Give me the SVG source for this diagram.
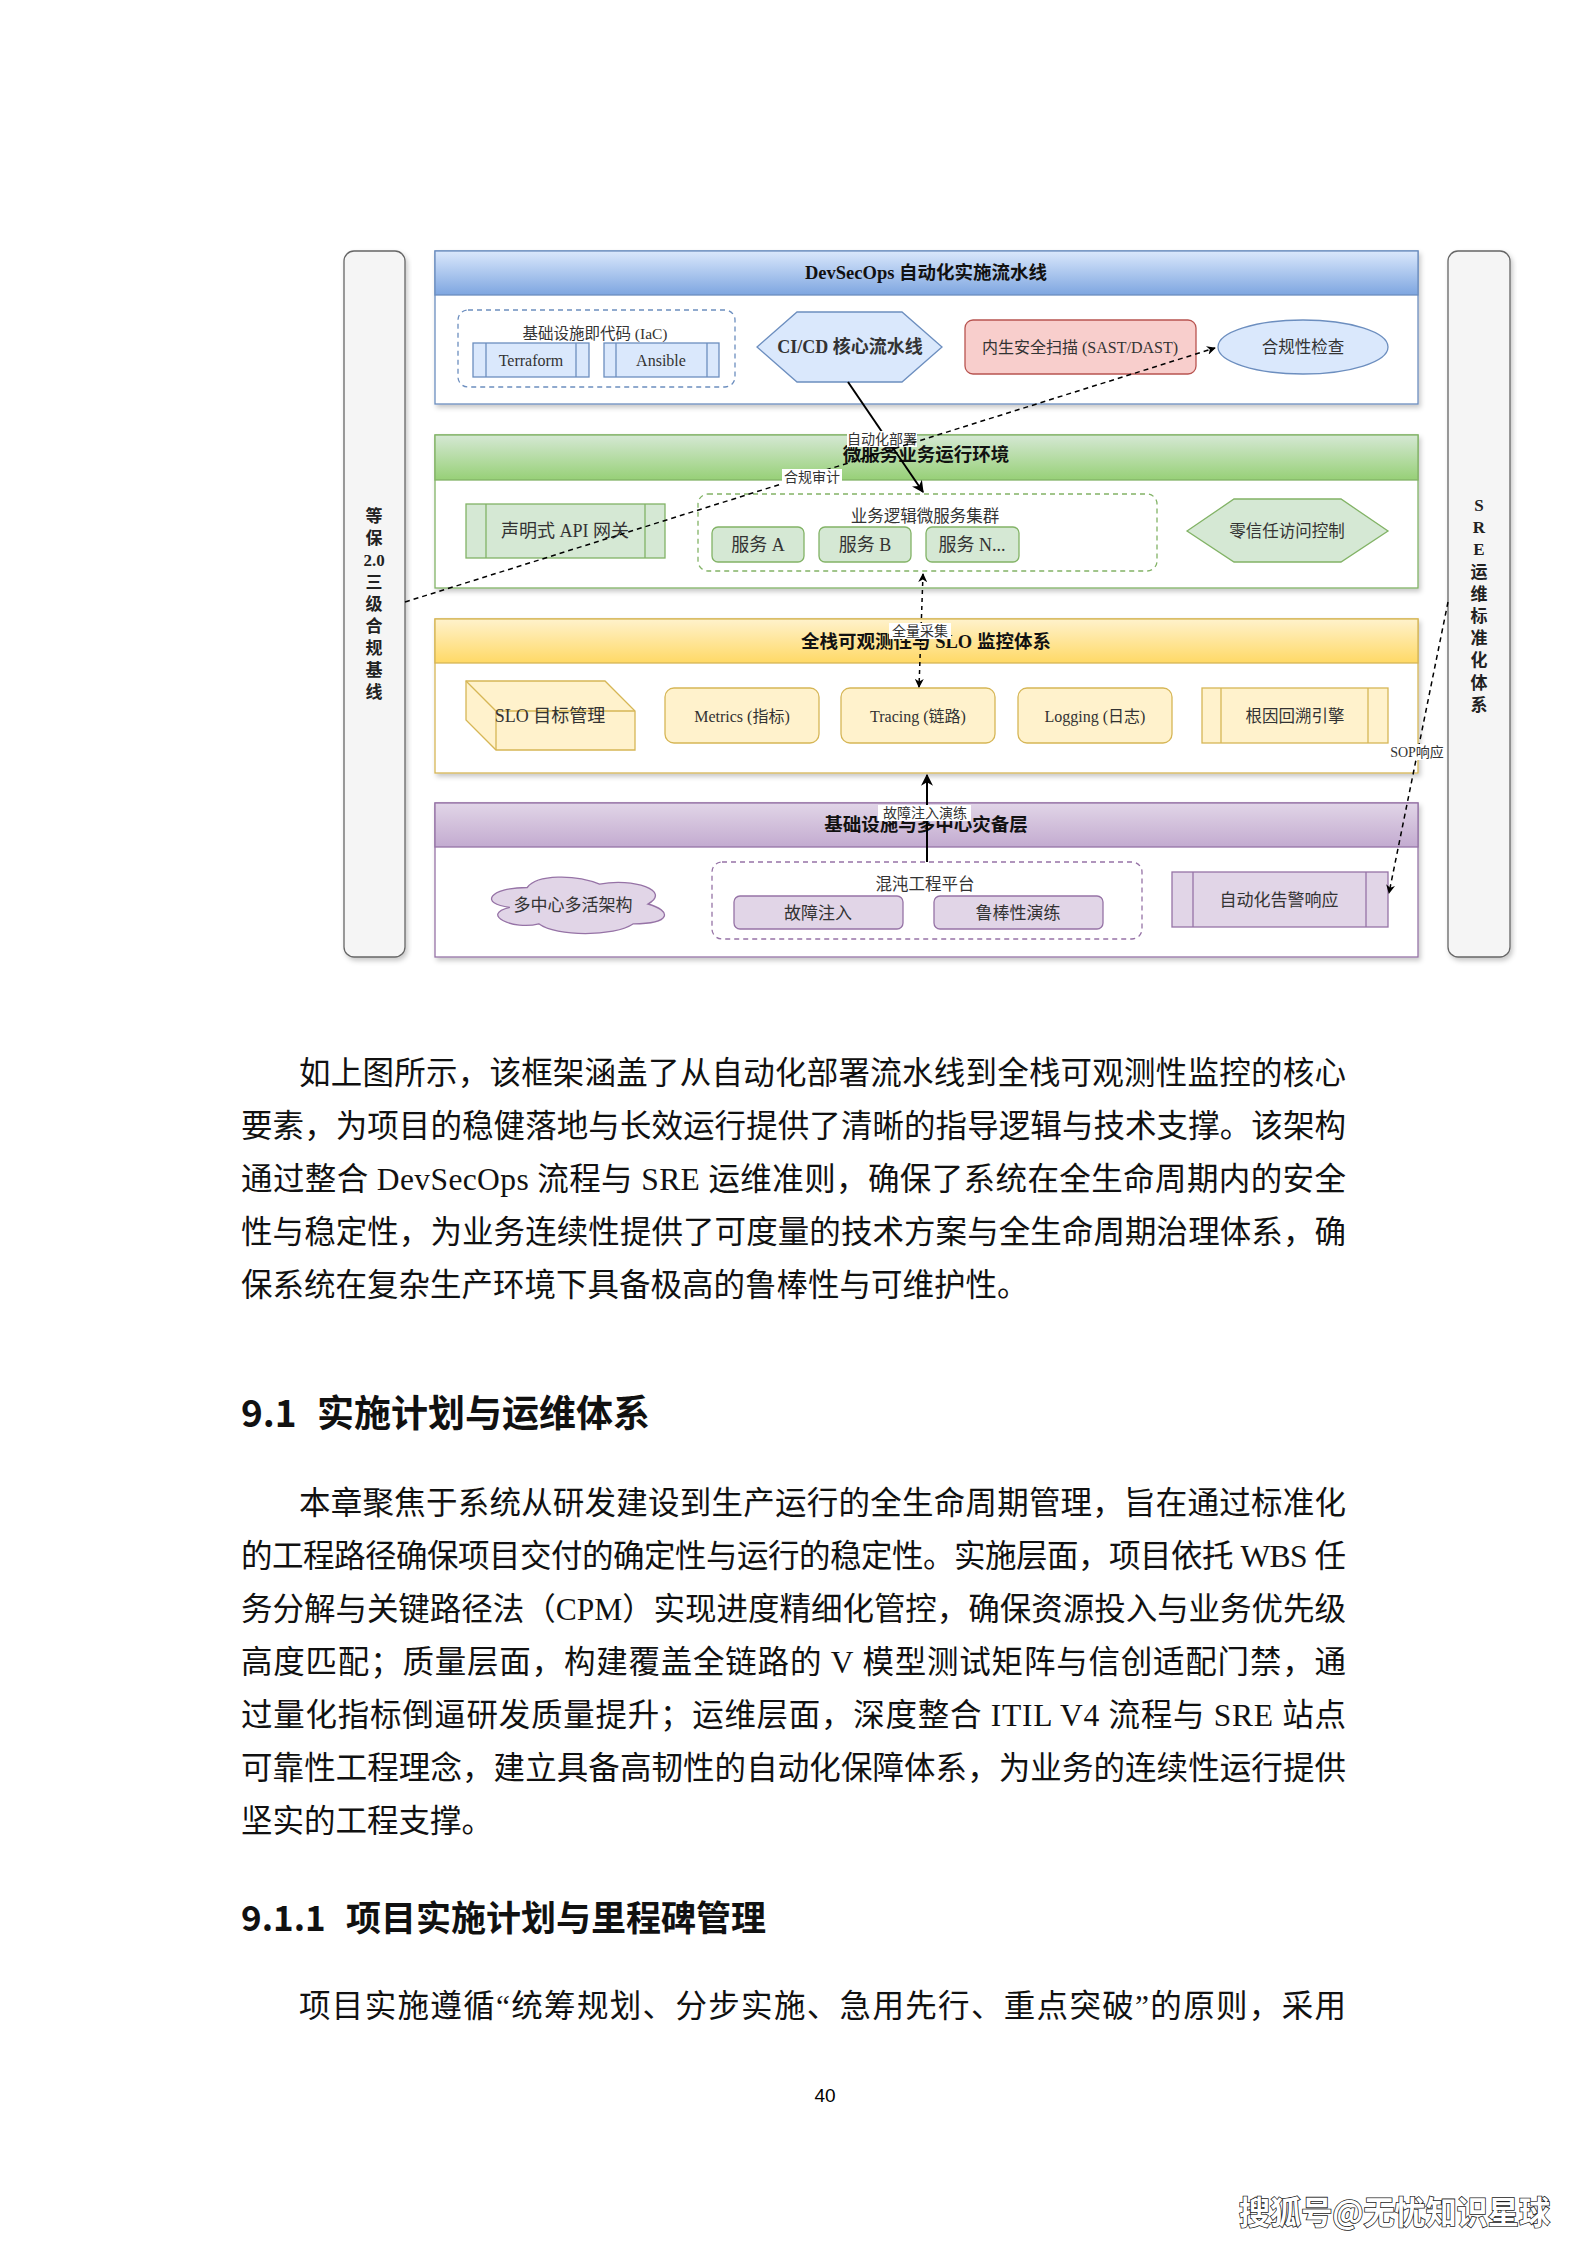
<svg xmlns="http://www.w3.org/2000/svg" width="1587" height="2245" viewBox="0 0 1587 2245">
<defs>
  <linearGradient id="gBlue" x1="0" y1="0" x2="0" y2="1"><stop offset="0" stop-color="#dae8fc"/><stop offset="1" stop-color="#7ea6e0"/></linearGradient>
  <linearGradient id="gGreen" x1="0" y1="0" x2="0" y2="1"><stop offset="0" stop-color="#d5e8d4"/><stop offset="1" stop-color="#97d077"/></linearGradient>
  <linearGradient id="gYellow" x1="0" y1="0" x2="0" y2="1"><stop offset="0" stop-color="#fff2cc"/><stop offset="1" stop-color="#ffd966"/></linearGradient>
  <linearGradient id="gPurple" x1="0" y1="0" x2="0" y2="1"><stop offset="0" stop-color="#e1d5e7"/><stop offset="1" stop-color="#c3abd0"/></linearGradient>
  <filter id="sh" x="-5%" y="-5%" width="115%" height="120%">
    <feDropShadow dx="2" dy="3" stdDeviation="2.5" flood-color="#000" flood-opacity="0.22"/>
  </filter>
  <marker id="arr" viewBox="0 0 10 10" refX="9" refY="5" markerWidth="6" markerHeight="6" orient="auto-start-reverse" markerUnits="strokeWidth">
    <path d="M0,0 L10,5 L0,10 L3,5 z" fill="#000" stroke="none"/>
  </marker>
  <style>
    .t { font-family: "Liberation Serif", "Noto Sans CJK SC", serif; fill: #333; text-anchor: middle; dominant-baseline: central; }
    .ttl { font-weight: bold; font-size: 18.5px; fill: #111; }
    .side { font-family: "Liberation Serif", "Noto Sans CJK SC", serif; font-weight: bold; font-size: 17px; fill: #222; text-anchor: middle; dominant-baseline: central; }
    .lbl { font-family: "Liberation Serif", "Noto Sans CJK SC", serif; font-size: 14px; fill: #333; text-anchor: middle; dominant-baseline: central; }
    .body { font-family: "Liberation Serif", "Noto Sans CJK SC", serif; font-size: 31.5px; fill: #111; }
    .hd { font-family: "Noto Sans CJK SC", "Liberation Sans", sans-serif; font-weight: bold; fill: #111; }
    .bar { fill: #f5f5f5; stroke: #666; stroke-width: 1.3; }
    .bl { fill: #dae8fc; stroke: #6c8ebf; stroke-width: 1.3; }
    .gr { fill: #d5e8d4; stroke: #82b366; stroke-width: 1.3; }
    .ye { fill: #fff2cc; stroke: #d6b656; stroke-width: 1.3; }
    .pu { fill: #e1d5e7; stroke: #9673a6; stroke-width: 1.3; }
    .rd { fill: #f8cecc; stroke: #b85450; stroke-width: 1.3; }
    .grp { fill: none; stroke-width: 1.3; stroke-dasharray: 5 4; }
    .con { fill: none; stroke: #000; }
    .lblbg { fill: #fff; }
  </style>
</defs>
<rect x="0" y="0" width="1587" height="2245" fill="#fff"/>

<!-- side bars -->
<g id="bar-left">
  <rect class="bar" x="344" y="251" width="61" height="706" rx="10" filter="url(#sh)"/>
  <text class="side" x="374" y="516">等</text>
  <text class="side" x="374" y="538">保</text>
  <text class="side" x="374" y="560">2.0</text>
  <text class="side" x="374" y="582">三</text>
  <text class="side" x="374" y="604">级</text>
  <text class="side" x="374" y="626">合</text>
  <text class="side" x="374" y="648">规</text>
  <text class="side" x="374" y="670">基</text>
  <text class="side" x="374" y="692">线</text>
</g>
<g id="bar-right">
  <rect class="bar" x="1448" y="251" width="62" height="706" rx="10" filter="url(#sh)"/>
  <text class="side" x="1479" y="505">S</text>
  <text class="side" x="1479" y="527">R</text>
  <text class="side" x="1479" y="549">E</text>
  <text class="side" x="1479" y="572">运</text>
  <text class="side" x="1479" y="594">维</text>
  <text class="side" x="1479" y="616">标</text>
  <text class="side" x="1479" y="638">准</text>
  <text class="side" x="1479" y="660">化</text>
  <text class="side" x="1479" y="683">体</text>
  <text class="side" x="1479" y="705">系</text>
</g>

<!-- layers -->
<g id="layer-devsecops">
  <rect x="435" y="251" width="983" height="153" fill="#fff" stroke="#6c8ebf" stroke-width="1.3" filter="url(#sh)"/>
  <rect x="435" y="251" width="983" height="44" fill="url(#gBlue)" stroke="#6c8ebf" stroke-width="1.3"/>
  <text class="t ttl" x="926" y="273">DevSecOps 自动化实施流水线</text>
</g>
<g id="layer-micro">
  <rect x="435" y="435" width="983" height="153" fill="#fff" stroke="#82b366" stroke-width="1.3" filter="url(#sh)"/>
  <rect x="435" y="435" width="983" height="45" fill="url(#gGreen)" stroke="#82b366" stroke-width="1.3"/>
  <text class="t ttl" x="926" y="455">微服务业务运行环境</text>
</g>
<g id="layer-obs">
  <rect x="435" y="619" width="983" height="154" fill="#fff" stroke="#d6b656" stroke-width="1.3" filter="url(#sh)"/>
  <rect x="435" y="619" width="983" height="44" fill="url(#gYellow)" stroke="#d6b656" stroke-width="1.3"/>
  <text class="t ttl" x="926" y="642">全栈可观测性与 SLO 监控体系</text>
</g>
<g id="layer-infra">
  <rect x="435" y="803" width="983" height="154" fill="#fff" stroke="#9673a6" stroke-width="1.3" filter="url(#sh)"/>
  <rect x="435" y="803" width="983" height="44" fill="url(#gPurple)" stroke="#9673a6" stroke-width="1.3"/>
  <text class="t ttl" x="926" y="825">基础设施与多中心灾备层</text>
</g>

<!-- DevSecOps nodes -->
<g id="iac-group">
  <rect class="grp" x="458" y="310" width="277" height="77" rx="10" stroke="#6c8ebf"/>
  <text class="t" x="595" y="333" font-size="15.5">基础设施即代码 (IaC)</text>
</g>
<g id="terraform">
  <rect class="bl" x="473" y="343" width="116" height="34"/>
  <line x1="486" y1="343" x2="486" y2="377" stroke="#6c8ebf" stroke-width="1.3"/>
  <line x1="576" y1="343" x2="576" y2="377" stroke="#6c8ebf" stroke-width="1.3"/>
  <text class="t" x="531" y="360" font-size="16">Terraform</text>
</g>
<g id="ansible">
  <rect class="bl" x="604" y="343" width="115" height="34"/>
  <line x1="616" y1="343" x2="616" y2="377" stroke="#6c8ebf" stroke-width="1.3"/>
  <line x1="707" y1="343" x2="707" y2="377" stroke="#6c8ebf" stroke-width="1.3"/>
  <text class="t" x="661" y="360" font-size="16">Ansible</text>
</g>
<g id="cicd">
  <polygon class="bl" points="757,347 797,312 902,312 942,347 902,382 797,382"/>
  <text class="t" x="850" y="347" font-size="18" font-weight="bold" fill="#111">CI/CD 核心流水线</text>
</g>
<g id="sast">
  <rect class="rd" x="965" y="320" width="231" height="54" rx="8"/>
  <text class="t" x="1080" y="347" font-size="16">内生安全扫描 (SAST/DAST)</text>
</g>
<g id="compliance">
  <ellipse class="bl" cx="1303" cy="347" rx="85" ry="27"/>
  <text class="t" x="1303" y="347" font-size="16.5">合规性检查</text>
</g>

<!-- Microservice nodes -->
<g id="api-gateway">
  <rect class="gr" x="466" y="504" width="199" height="54"/>
  <line x1="486" y1="504" x2="486" y2="558" stroke="#82b366" stroke-width="1.3"/>
  <line x1="645" y1="504" x2="645" y2="558" stroke="#82b366" stroke-width="1.3"/>
  <text class="t" x="565" y="531" font-size="18">声明式 API 网关</text>
</g>
<g id="service-cluster">
  <rect class="grp" x="698" y="494" width="459" height="77" rx="10" stroke="#82b366"/>
  <text class="t" x="925" y="516" font-size="16.5">业务逻辑微服务集群</text>
</g>
<g id="service-a">
  <rect class="gr" x="712" y="527" width="92" height="35" rx="6"/>
  <text class="t" x="758" y="545" font-size="18">服务 A</text>
</g>
<g id="service-b">
  <rect class="gr" x="819" y="527" width="92" height="35" rx="6"/>
  <text class="t" x="865" y="545" font-size="18">服务 B</text>
</g>
<g id="service-n">
  <rect class="gr" x="926" y="527" width="93" height="35" rx="6"/>
  <text class="t" x="972" y="545" font-size="18">服务 N...</text>
</g>
<g id="zero-trust">
  <polygon class="gr" points="1187,531 1234,499 1341,499 1388,531 1341,562 1234,562"/>
  <text class="t" x="1287" y="531" font-size="16.5">零信任访问控制</text>
</g>

<!-- Observability nodes -->
<g id="slo">
  <path class="ye" d="M466,681 L605,681 L635,711 L635,750 L496,750 L466,720 Z"/>
  <path d="M466,681 L496,711 L635,711 M496,711 L496,750" fill="none" stroke="#d6b656" stroke-width="1.3"/>
  <text class="t" x="550" y="716" font-size="18">SLO 目标管理</text>
</g>
<g id="metrics">
  <rect class="ye" x="665" y="688" width="154" height="55" rx="9"/>
  <text class="t" x="742" y="716" font-size="16">Metrics (指标)</text>
</g>
<g id="tracing">
  <rect class="ye" x="841" y="688" width="154" height="55" rx="9"/>
  <text class="t" x="918" y="716" font-size="16">Tracing (链路)</text>
</g>
<g id="logging">
  <rect class="ye" x="1018" y="688" width="154" height="55" rx="9"/>
  <text class="t" x="1095" y="716" font-size="16">Logging (日志)</text>
</g>
<g id="rca">
  <rect class="ye" x="1202" y="688" width="186" height="55"/>
  <line x1="1221" y1="688" x2="1221" y2="743" stroke="#d6b656" stroke-width="1.3"/>
  <line x1="1368" y1="688" x2="1368" y2="743" stroke="#d6b656" stroke-width="1.3"/>
  <text class="t" x="1295" y="716" font-size="16.5">根因回溯引擎</text>
</g>

<!-- Infra nodes -->
<g id="multi-dc">
  <path class="pu" d="M527.25,887.5 C488.65,887.5 479,904 509.9,907.3 C479,914.6 513.7,930.4 538.8,923.8 C556.2,937 614.1,937 633.4,923.8 C672,923.8 672,910.6 647.9,904 C672,890.8 633.4,877.6 599.6,884.2 C575.5,874.3 536.9,874.3 527.25,887.5 Z"/>
  <text class="t" x="573" y="905" font-size="17">多中心多活架构</text>
</g>
<g id="chaos-group">
  <rect class="grp" x="712" y="862" width="430" height="77" rx="10" stroke="#9673a6"/>
  <text class="t" x="925" y="884" font-size="16.5">混沌工程平台</text>
</g>
<g id="fault-injection">
  <rect class="pu" x="734" y="896" width="169" height="33" rx="6"/>
  <text class="t" x="818" y="913" font-size="17">故障注入</text>
</g>
<g id="robustness">
  <rect class="pu" x="934" y="896" width="169" height="33" rx="6"/>
  <text class="t" x="1018" y="913" font-size="17">鲁棒性演练</text>
</g>
<g id="auto-alert">
  <rect class="pu" x="1172" y="872" width="216" height="55"/>
  <line x1="1193" y1="872" x2="1193" y2="927" stroke="#9673a6" stroke-width="1.3"/>
  <line x1="1366" y1="872" x2="1366" y2="927" stroke="#9673a6" stroke-width="1.3"/>
  <text class="t" x="1279" y="900" font-size="17">自动化告警响应</text>
</g>

<!-- connectors -->
<g id="connectors">
  <line class="con" x1="848" y1="382" x2="923" y2="492" stroke-width="2" marker-end="url(#arr)"/>
  <rect class="lblbg" x="847" y="431" width="70" height="16"/>
  <text class="lbl" x="882" y="439">自动化部署</text>

  <line class="con" x1="405" y1="602" x2="1215" y2="348" stroke-width="1.5" stroke-dasharray="5 4" marker-end="url(#arr)"/>
  <rect class="lblbg" x="782" y="469" width="60" height="16"/>
  <text class="lbl" x="812" y="477">合规审计</text>

  <line class="con" x1="923" y1="574" x2="919" y2="687" stroke-width="1.5" stroke-dasharray="4 4" marker-start="url(#arr)" marker-end="url(#arr)"/>
  <rect class="lblbg" x="889" y="623" width="62" height="16"/>
  <text class="lbl" x="920" y="631" fill="#555">全量采集</text>

  <line class="con" x1="927" y1="862" x2="927" y2="775" stroke-width="2" marker-end="url(#arr)"/>
  <rect class="lblbg" x="878" y="805" width="93" height="16"/>
  <text class="lbl" x="925" y="813">故障注入演练</text>

  <line class="con" x1="1448" y1="602" x2="1389" y2="893" stroke-width="1.5" stroke-dasharray="5 4" marker-end="url(#arr)"/>
  <rect class="lblbg" x="1388" y="744" width="58" height="16"/>
  <text class="lbl" x="1417" y="752">SOP响应</text>
</g>

<!-- body text -->
<g id="para1">
  <text class="body" x="299" y="1084" textLength="1047" lengthAdjust="spacing">如上图所示，该框架涵盖了从自动化部署流水线到全栈可观测性监控的核心</text>
  <text class="body" x="241" y="1137" textLength="1105" lengthAdjust="spacing">要素，为项目的稳健落地与长效运行提供了清晰的指导逻辑与技术支撑。该架构</text>
  <text class="body" x="241" y="1190" textLength="1105" lengthAdjust="spacing">通过整合 DevSecOps 流程与 SRE 运维准则，确保了系统在全生命周期内的安全</text>
  <text class="body" x="241" y="1243" textLength="1105" lengthAdjust="spacing">性与稳定性，为业务连续性提供了可度量的技术方案与全生命周期治理体系，确</text>
  <text class="body" x="241" y="1296">保系统在复杂生产环境下具备极高的鲁棒性与可维护性。</text>
</g>
<g id="heading-91">
  <text class="hd" x="241" y="1427" font-size="37">9.1</text>
  <text class="hd" x="317" y="1427" font-size="37">实施计划与运维体系</text>
</g>
<g id="para2">
  <text class="body" x="299" y="1514" textLength="1047" lengthAdjust="spacing">本章聚焦于系统从研发建设到生产运行的全生命周期管理，旨在通过标准化</text>
  <text class="body" x="241" y="1567" textLength="1105" lengthAdjust="spacing">的工程路径确保项目交付的确定性与运行的稳定性。实施层面，项目依托 WBS 任</text>
  <text class="body" x="241" y="1620" textLength="1105" lengthAdjust="spacing">务分解与关键路径法（CPM）实现进度精细化管控，确保资源投入与业务优先级</text>
  <text class="body" x="241" y="1673" textLength="1105" lengthAdjust="spacing">高度匹配；质量层面，构建覆盖全链路的 V 模型测试矩阵与信创适配门禁，通</text>
  <text class="body" x="241" y="1726" textLength="1105" lengthAdjust="spacing">过量化指标倒逼研发质量提升；运维层面，深度整合 ITIL V4 流程与 SRE 站点</text>
  <text class="body" x="241" y="1779" textLength="1105" lengthAdjust="spacing">可靠性工程理念，建立具备高韧性的自动化保障体系，为业务的连续性运行提供</text>
  <text class="body" x="241" y="1832">坚实的工程支撑。</text>
</g>
<g id="heading-911">
  <text class="hd" x="241" y="1931" font-size="35">9.1.1</text>
  <text class="hd" x="346" y="1931" font-size="35">项目实施计划与里程碑管理</text>
</g>
<g id="para3">
  <text class="body" x="299" y="2017" textLength="1047" lengthAdjust="spacing">项目实施遵循“统筹规划、分步实施、急用先行、重点突破”的原则，采用</text>
</g>
<text x="825" y="2102" font-family="Liberation Sans, sans-serif" font-size="19" fill="#000" text-anchor="middle">40</text>
<text x="1239" y="2224" font-family="Noto Sans CJK SC, sans-serif" font-size="32" font-weight="bold" fill="#fff" stroke="#222" stroke-width="1.6" paint-order="stroke" textLength="311" lengthAdjust="spacingAndGlyphs">搜狐号@无忧知识星球</text>
</svg>
